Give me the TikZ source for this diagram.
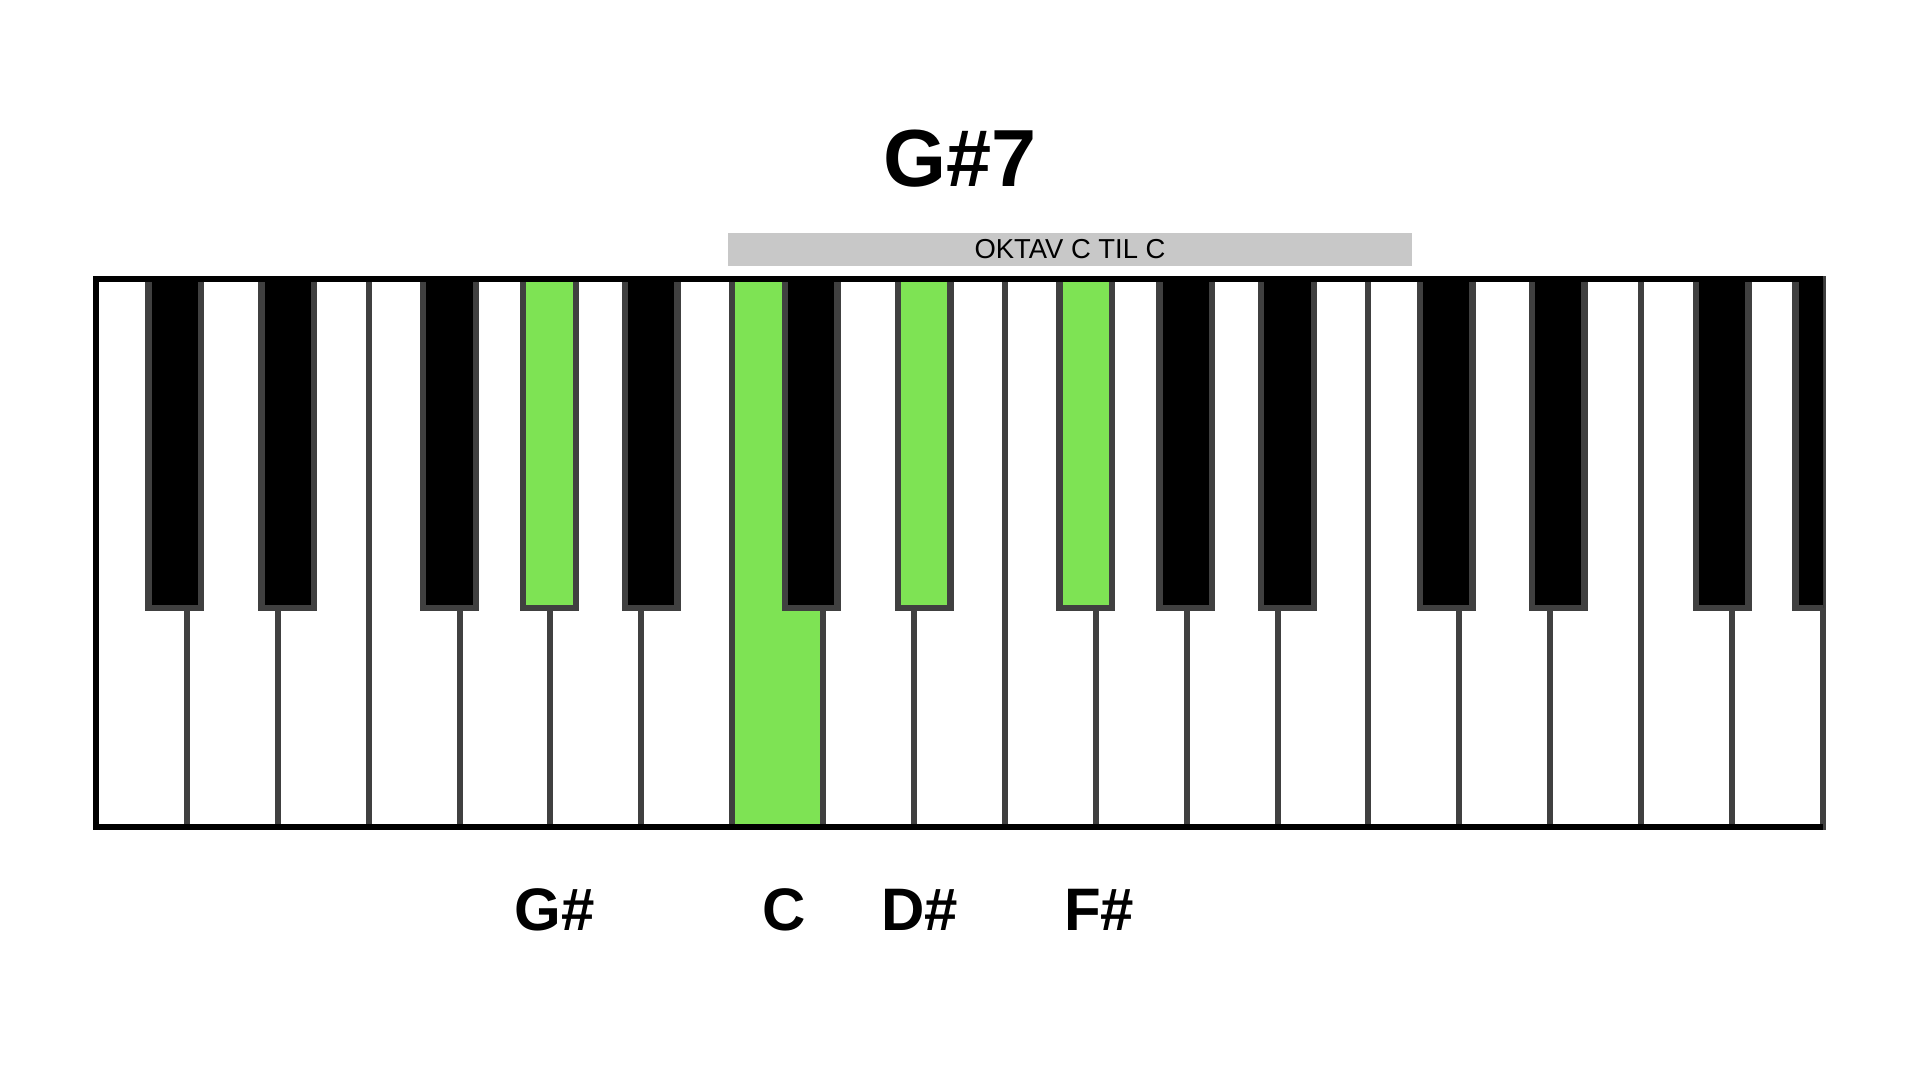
\documentclass[tikz,border=0pt]{standalone}
\usepackage{fontspec}
\setmainfont{Liberation Sans}
\usepackage{xcolor}
\usetikzlibrary{positioning}
\definecolor{keygreen}{RGB}{126,227,84}
\definecolor{keyedge}{RGB}{64,64,64}
\definecolor{barfill}{RGB}{200,200,200}

\begin{document}
\begin{tikzpicture}[
    x=0.5pt, y=-0.5pt,
    whitekey/.style={draw=keyedge, line width=3pt},
    blackkey/.style={draw=keyedge, line width=3.2pt},
    frame/.style={draw=black, line width=2.6pt},
    notelab/.style={anchor=base, font=\fontsize{30}{30}\selectfont\bfseries}
]
\useasboundingbox (0,0) rectangle (1920,1080);

% ---- white keys (19 keys, C to G) ----
\foreach \i in {0,...,18}
  \draw[whitekey, fill=white] ({96+\i*90.89},279) rectangle ({96+(\i+1)*90.89},827);
\draw[whitekey, fill=keygreen] ({96+7*90.89},279) rectangle ({96+8*90.89},827); % C

% ---- black keys (divider index / shift / fill) ----
\begin{scope}
  \clip (96,279) rectangle (1823,827);
  \foreach \d/\off/\c in {1/-12/black, 2/10/black, 4/-10/black, 5/-1/keygreen, 6/10/black,
                          8/-12/black, 9/10/keygreen, 11/-10/keygreen, 12/-1/black, 13/10/black,
                          15/-13/black, 16/8/black, 18/-10/black, 19/-1/black}
    \draw[blackkey, fill=\c] ({96+\d*90.89+\off-26.3},279) rectangle ({96+\d*90.89+\off+26.3},608);
\end{scope}

% ---- keyboard frame ----
\draw[frame] (1823,279) -- (96,279) -- (96,827) -- (1823,827);

% ---- octave bar ----
\fill[barfill] (728,233) rectangle (1412,266);
\node[anchor=base, font=\fontsize{13.7}{14}\selectfont] (oktav) at (1070,259) {OKTAV C TIL C};

% ---- chord name ----
\node[anchor=base, font=\fontsize{40.5}{41}\selectfont\bfseries] (title) at (960,187) {G\#7};

% ---- note names ----
\node[notelab] (labGs) at (555,930) {G\#};
\node[notelab] (labC)  at (784,930) {C};
\node[notelab] (labDs) at (920,930) {D\#};
\node[notelab] (labFs) at (1099,930) {F\#};

\end{tikzpicture}
\end{document}
